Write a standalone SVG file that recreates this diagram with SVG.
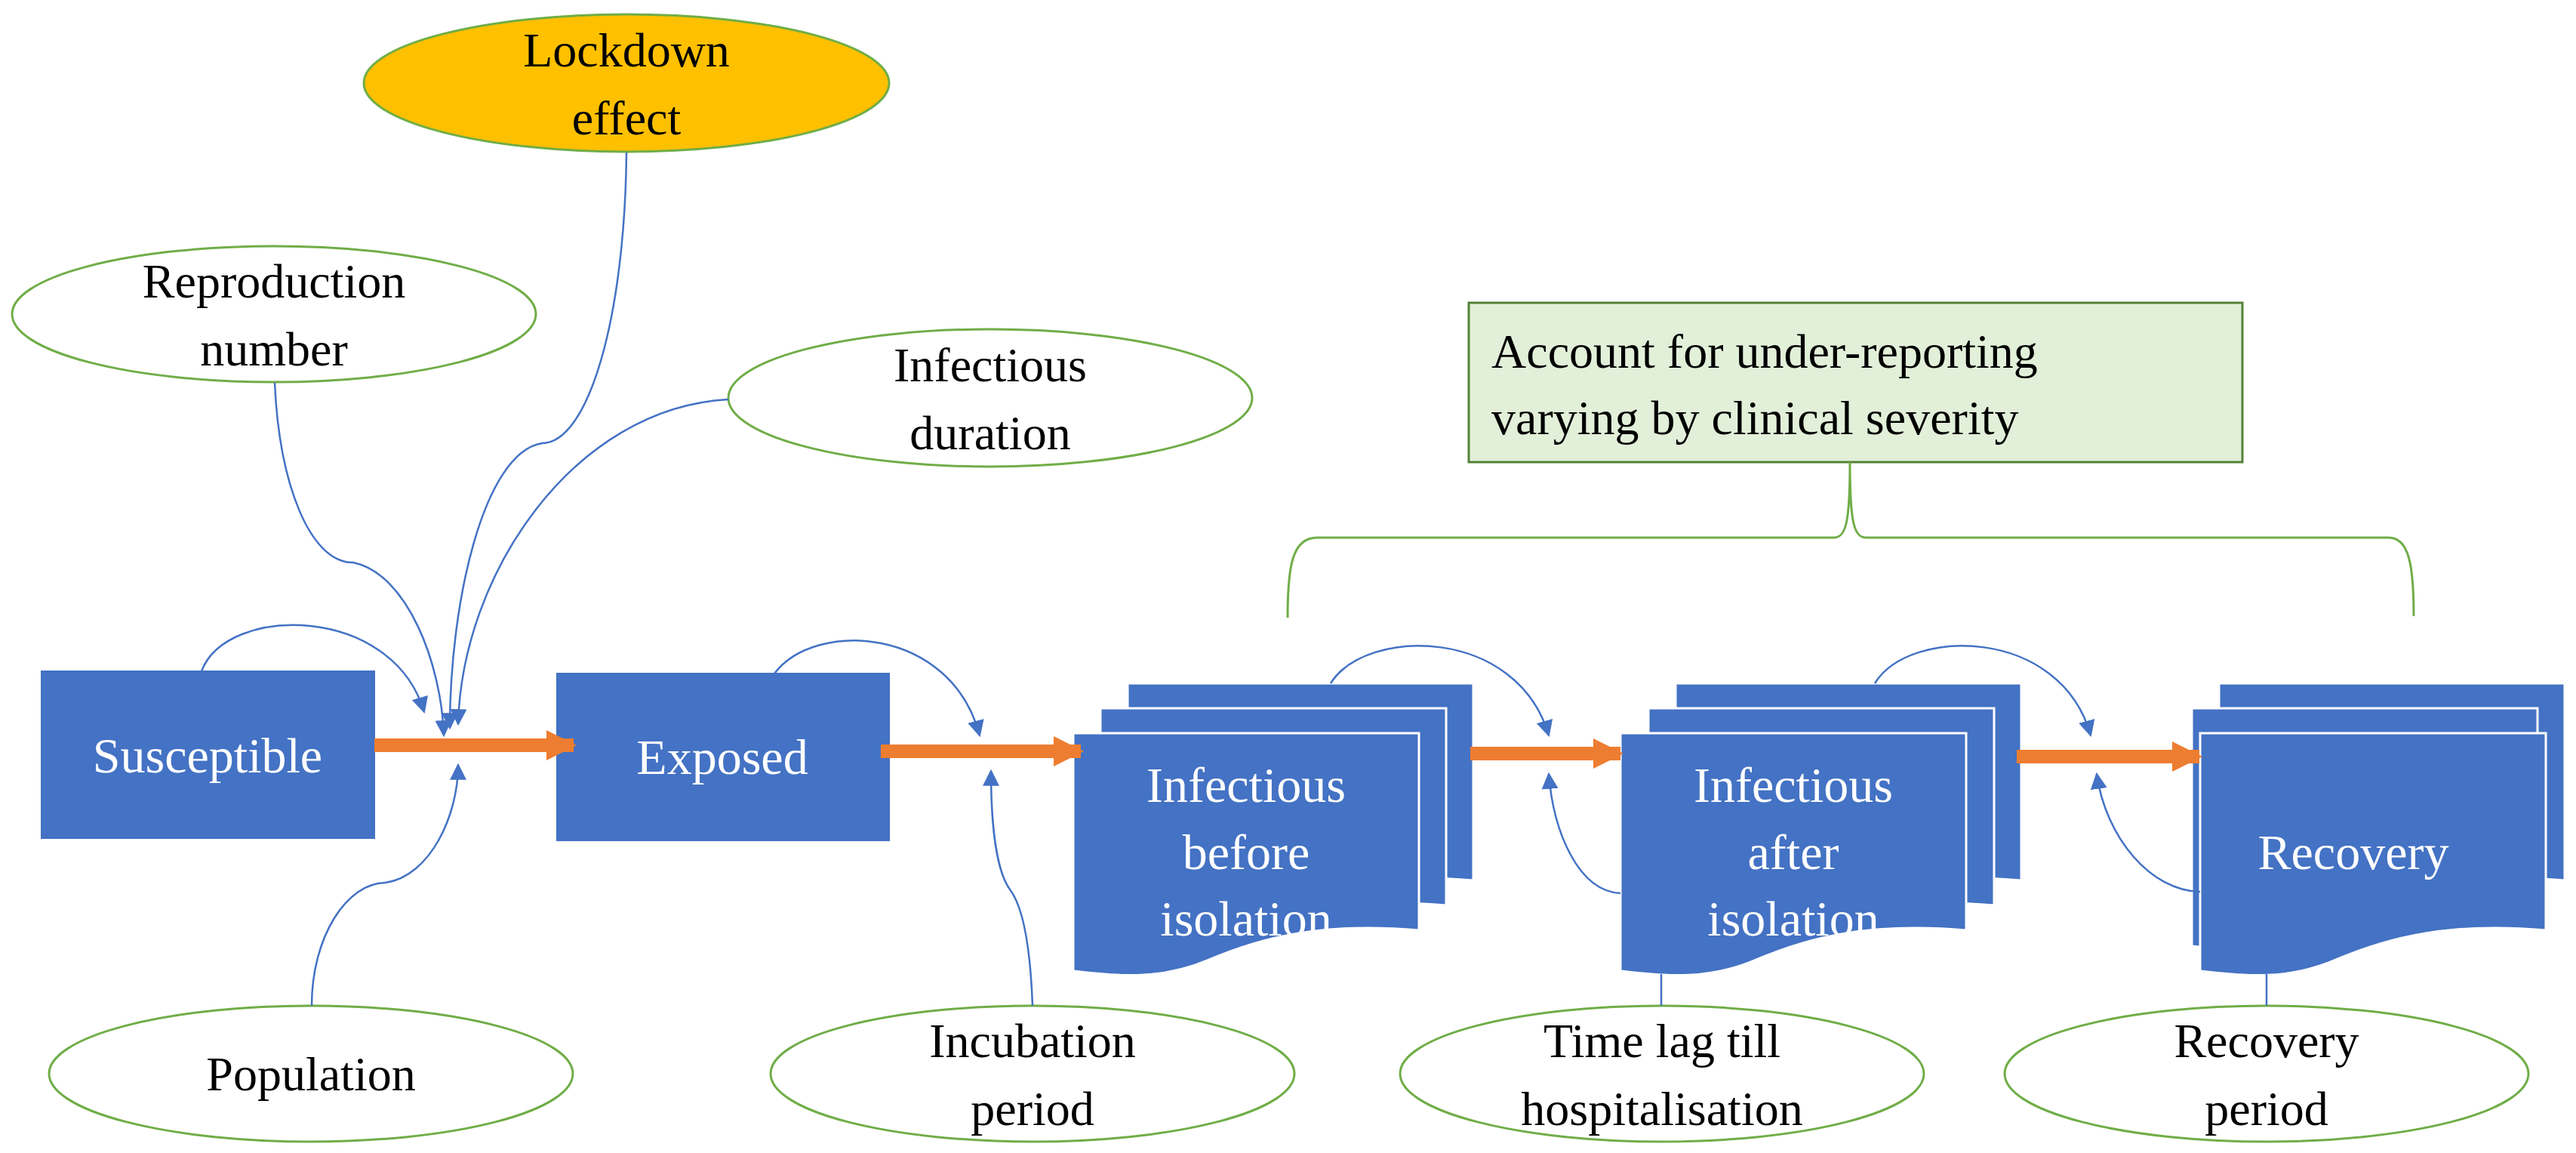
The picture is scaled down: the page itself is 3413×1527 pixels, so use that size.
<svg xmlns="http://www.w3.org/2000/svg" width="3413" height="1527" viewBox="0 0 3413 1527">
<style>
.t{font-family:"Liberation Serif","Times New Roman",serif;font-size:64px;fill:#000;text-anchor:middle}
.w{font-family:"Liberation Serif","Times New Roman",serif;font-size:66px;fill:#fff;text-anchor:middle}
.el{fill:#fff;stroke:#70AD47;stroke-width:3}
.bx{fill:#4472C4;stroke:#4472C4;stroke-width:2}
.doc{fill:#4472C4;stroke:#fff;stroke-width:3}
.bl{fill:none;stroke:#4472C4;stroke-width:2.5;marker-end:url(#ba)}
.bn{fill:none;stroke:#4472C4;stroke-width:2.5}
.or{fill:none;stroke:#ED7D31;stroke-width:18;marker-end:url(#oa)}
</style>
<defs>
<marker id="ba" markerUnits="userSpaceOnUse" markerWidth="22" markerHeight="22" viewBox="0 0 10 10" refX="9" refY="5" orient="auto"><path d="M0,0 L10,5 L0,10 z" fill="#4472C4"/></marker>
<marker id="oa" markerUnits="userSpaceOnUse" markerWidth="40" markerHeight="46" viewBox="0 0 10 10" refX="9" refY="5" orient="auto"><path d="M0,0 L10,5 L0,10 z" fill="#ED7D31"/></marker>
<path id="d" d="M0,0 H458 V261 C330,250 250,270 180,300 C110,330 50,320 0,315 Z"/>
</defs>
<rect width="3413" height="1527" fill="#fff"/>
<g id="lockdown"><ellipse cx="830" cy="110" rx="348" ry="91" fill="#FFC000" stroke="#70AD47" stroke-width="3"/><text class="t" x="830" y="88">Lockdown</text><text class="t" x="830" y="178">effect</text></g>
<g id="reproduction"><ellipse class="el" cx="363" cy="416" rx="347" ry="90"/><text class="t" x="363" y="394">Reproduction</text><text class="t" x="363" y="484">number</text></g>
<g id="infdur"><ellipse class="el" cx="1312" cy="527" rx="347" ry="91"/><text class="t" x="1312" y="505">Infectious</text><text class="t" x="1312" y="595">duration</text></g>
<g id="population"><ellipse class="el" cx="412" cy="1422" rx="347" ry="90"/><text class="t" x="412" y="1444">Population</text></g>
<g id="incubation"><ellipse class="el" cx="1368" cy="1422" rx="347" ry="90"/><text class="t" x="1368" y="1400">Incubation</text><text class="t" x="1368" y="1490">period</text></g>
<g id="timelag"><ellipse class="el" cx="2202" cy="1422" rx="347" ry="90"/><text class="t" x="2202" y="1400">Time lag till</text><text class="t" x="2202" y="1490">hospitalisation</text></g>
<g id="recperiod"><ellipse class="el" cx="3003" cy="1422" rx="347" ry="90"/><text class="t" x="3003" y="1400">Recovery</text><text class="t" x="3003" y="1490">period</text></g>
<g id="susceptible"><rect class="bx" x="55" y="889" width="441" height="221"/><text class="w" x="275" y="1023">Susceptible</text></g>
<g id="exposed"><rect class="bx" x="738" y="892" width="440" height="221"/><text class="w" x="957" y="1025">Exposed</text></g>
<g id="infbefore"><use href="#d" class="doc" x="1494" y="905"/><use href="#d" class="doc" x="1458" y="938"/><use href="#d" class="doc" x="1422" y="971"/><text class="w" x="1651" y="1062">Infectious</text><text class="w" x="1651" y="1151">before</text><text class="w" x="1651" y="1239">isolation</text></g>
<g id="infafter"><use href="#d" class="doc" x="2220" y="905"/><use href="#d" class="doc" x="2184" y="938"/><use href="#d" class="doc" x="2147" y="971"/><text class="w" x="2376" y="1062">Infectious</text><text class="w" x="2376" y="1151">after</text><text class="w" x="2376" y="1239">isolation</text></g>
<g id="recovery"><use href="#d" class="doc" x="2940" y="905"/><use href="#d" class="doc" x="2904" y="938"/><use href="#d" class="doc" x="2915" y="971" transform="translate(0,0)"/><text class="w" x="3118" y="1151">Recovery</text></g>
<g id="note"><rect x="1946" y="401" width="1025" height="211" fill="#E2F0D9" stroke="#548235" stroke-width="3"/><text class="t" x="1976" y="487" style="text-anchor:start">Account for under-reporting</text><text class="t" x="1976" y="575" style="text-anchor:start">varying by clinical severity</text></g>
<g id="connectors">
<path d="M1706,818 C1706,750 1712,712 1745,712 L2430,712 C2446,712 2451,690 2451,612 C2451,690 2456,712 2472,712 L3165,712 C3192,712 3198,750 3198,816" fill="none" stroke="#70AD47" stroke-width="3"/>
<line class="or" x1="496" y1="987" x2="760" y2="987"/>
<line class="or" x1="1167" y1="995" x2="1432" y2="995"/>
<line class="or" x1="1948" y1="998" x2="2147" y2="998"/>
<line class="or" x1="2672" y1="1002" x2="2914" y2="1002"/>
<path class="bl" d="M267,889 C300,800 520,800 562,943"/>
<path class="bl" d="M364,507 C370,640 410,745 468,745 C540,760 585,880 588,974"/>
<path class="bl" d="M830,202 C828,420 780,587 718,587 C640,600 596,800 596,964"/>
<path class="bl" d="M965,529 C760,540 612,760 607,959"/>
<path class="bl" d="M413,1332 C413,1240 460,1169 511,1169 C570,1160 607,1080 607,1013"/>
<path class="bl" d="M1026,892 C1080,820 1260,830 1298,974"/>
<path class="bl" d="M1368,1332 C1365,1250 1355,1200 1338,1178 C1318,1150 1313,1080 1313,1021"/>
<path class="bl" d="M1763,905 C1810,830 2010,830 2052,974"/>
<path class="bn" d="M2201,1290 L2201,1332"/>
<path class="bl" d="M2147,1183 C2090,1180 2058,1100 2052,1025"/>
<path class="bl" d="M2484,905 C2530,830 2730,830 2770,974"/>
<path class="bn" d="M3003,1290 L3003,1332"/>
<path class="bl" d="M2915,1181 C2850,1180 2790,1110 2778,1025"/>
</g>
</svg>
